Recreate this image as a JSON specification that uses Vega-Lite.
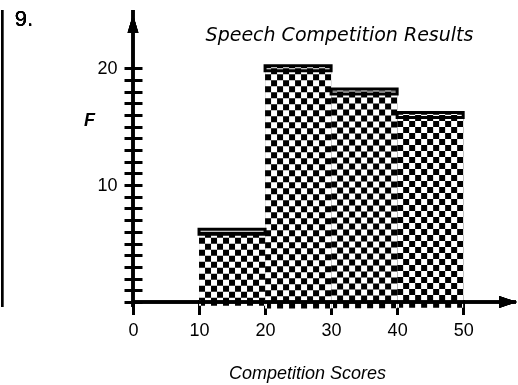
{
  "$schema": "https://vega.github.io/schema/vega-lite/v6.json",
  "autosize": "none",
  "width": 383,
  "height": 297,
  "padding": {"left": 133, "top": 10, "right": 2, "bottom": 78},
  "background": "white",
  "config": {
    "view": {"stroke": null},
    "font": "Liberation Sans",
    "axisX": {
      "domain": false, "grid": false, "offset": -7.5, "tickSize": 15, "tickWidth": 3, "tickColor": "black",
      "labelFont": "Liberation Sans", "labelFontSize": 18, "labelColor": "black", "labelPadding": 7, "labelFlush": false,
      "titleFont": "Liberation Sans", "titleFontStyle": "italic", "titleFontWeight": "normal", "titleFontSize": 18,
      "titleColor": "black", "titleAlign": "center", "titleBaseline": "middle", "titleX": 174, "titleY": 73.5
    },
    "axisY": {
      "domain": false, "grid": false, "offset": -9, "tickSize": 18, "tickWidth": 3, "tickColor": "black",
      "labelFont": "Liberation Sans", "labelFontSize": 18, "labelColor": "black", "labelPadding": 7, "labelFlush": false,
      "titleFont": "Liberation Sans", "titleFontStyle": "italic", "titleFontWeight": "bold", "titleFontSize": 18,
      "titleColor": "black", "titleAngle": 0, "titleAlign": "center", "titleBaseline": "middle", "titleX": -53, "titleY": 110
    }
  },
  "title": {
    "text": "Speech Competition Results",
    "font": "DejaVu Sans",
    "fontStyle": "italic",
    "fontWeight": "normal",
    "fontSize": 19,
    "color": "black",
    "anchor": "middle",
    "baseline": "middle",
    "offset": 0,
    "dx": 15,
    "dy": 46
  },
  "data": {
    "values": [
      {"bin_start": 10, "bin_end": 20, "count": 6},
      {"bin_start": 20, "bin_end": 30, "count": 20},
      {"bin_start": 30, "bin_end": 40, "count": 18},
      {"bin_start": 40, "bin_end": 50, "count": 16}
    ]
  },
  "layer": [
    {
      "mark": {
        "type": "rule",
        "orient": "vertical",
        "stroke": "black",
        "strokeWidth": 66,
        "strokeCap": "butt",
        "strokeDash": [6, 6],
        "xOffset": 33
      },
      "encoding": {
        "x": {
          "field": "bin_start", "type": "quantitative",
          "scale": {"domain": [0, 58], "nice": false, "zero": false},
          "axis": {"values": [0, 10, 20, 30, 40, 50], "title": "Competition Scores"}
        },
        "y": {
          "field": "count", "type": "quantitative",
          "scale": {"domain": [0, 24.55], "nice": false},
          "axis": {
            "values": [0, 1, 2, 3, 4, 5, 6, 7, 8, 9, 10, 11, 12, 13, 14, 15, 16, 17, 18, 19, 20],
            "labelExpr": "datum.value == 10 || datum.value == 20 ? datum.label : ''",
            "title": "F"
          }
        }
      }
    },
    {
      "mark": {
        "type": "rule",
        "stroke": "white",
        "strokeCap": "butt",
        "strokeDash": [6, 6],
        "yOffset": {"expr": "(height - scale('y', datum.count)) / 2"},
        "blend": "difference"
      },
      "encoding": {
        "x": {"field": "bin_start", "type": "quantitative", "axis": {"values": [0, 10, 20, 30, 40, 50], "title": "Competition Scores"}},
        "x2": {"field": "bin_end"},
        "y": {
          "field": "count", "type": "quantitative",
          "axis": {
            "values": [0, 1, 2, 3, 4, 5, 6, 7, 8, 9, 10, 11, 12, 13, 14, 15, 16, 17, 18, 19, 20],
            "labelExpr": "datum.value == 10 || datum.value == 20 ? datum.label : ''",
            "title": "F"
          }
        },
        "strokeWidth": {
          "field": "count", "type": "quantitative",
          "scale": {"domain": [0, 24.55], "range": [0, 297], "zero": true, "nice": false},
          "legend": null
        }
      }
    },
    {
      "mark": {"type": "bar", "fill": null, "fillOpacity": 0, "stroke": "black", "strokeWidth": 3},
      "encoding": {
        "x": {"field": "bin_start", "type": "quantitative", "axis": {"values": [0, 10, 20, 30, 40, 50], "title": "Competition Scores"}},
        "x2": {"field": "bin_end"},
        "y": {
          "field": "count", "type": "quantitative",
          "axis": {
            "values": [0, 1, 2, 3, 4, 5, 6, 7, 8, 9, 10, 11, 12, 13, 14, 15, 16, 17, 18, 19, 20],
            "labelExpr": "datum.value == 10 || datum.value == 20 ? datum.label : ''",
            "title": "F"
          }
        }
      }
    },
    {
      "mark": {"type": "rule", "stroke": "black", "strokeWidth": 3},
      "encoding": {
        "y": {
          "datum": 0, "type": "quantitative",
          "axis": {
            "values": [0, 1, 2, 3, 4, 5, 6, 7, 8, 9, 10, 11, 12, 13, 14, 15, 16, 17, 18, 19, 20],
            "labelExpr": "datum.value == 10 || datum.value == 20 ? datum.label : ''",
            "title": "F"
          }
        }
      }
    },
    {
      "mark": {"type": "rule", "stroke": "black", "strokeWidth": 3},
      "encoding": {
        "x": {"datum": 0, "type": "quantitative", "axis": {"values": [0, 10, 20, 30, 40, 50], "title": "Competition Scores"}}
      }
    },
    {
      "mark": {"type": "rule", "stroke": "black", "strokeWidth": 2},
      "encoding": {
        "x": {"datum": -19.8, "type": "quantitative", "axis": {"values": [0, 10, 20, 30, 40, 50], "title": "Competition Scores"}}
      }
    },
    {
      "mark": {"type": "point", "shape": "M-1,-0.67L1,0L-1,0.67Z", "size": 324, "filled": true, "color": "black", "opacity": 1},
      "encoding": {
        "x": {"datum": 56.8, "type": "quantitative", "axis": {"values": [0, 10, 20, 30, 40, 50], "title": "Competition Scores"}},
        "y": {
          "datum": 0, "type": "quantitative",
          "axis": {
            "values": [0, 1, 2, 3, 4, 5, 6, 7, 8, 9, 10, 11, 12, 13, 14, 15, 16, 17, 18, 19, 20],
            "labelExpr": "datum.value == 10 || datum.value == 20 ? datum.label : ''",
            "title": "F"
          }
        }
      }
    },
    {
      "mark": {"type": "point", "shape": "M-0.6,1L0,-1L0.6,1Z", "size": 324, "filled": true, "color": "black", "opacity": 1},
      "encoding": {
        "x": {"datum": 0, "type": "quantitative", "axis": {"values": [0, 10, 20, 30, 40, 50], "title": "Competition Scores"}},
        "y": {
          "datum": 23.8, "type": "quantitative",
          "axis": {
            "values": [0, 1, 2, 3, 4, 5, 6, 7, 8, 9, 10, 11, 12, 13, 14, 15, 16, 17, 18, 19, 20],
            "labelExpr": "datum.value == 10 || datum.value == 20 ? datum.label : ''",
            "title": "F"
          }
        }
      }
    },
    {
      "mark": {"type": "text", "text": "9.", "font": "Liberation Sans", "fontSize": 22, "color": "black", "align": "center", "baseline": "middle"},
      "encoding": {
        "x": {"datum": -16.5, "type": "quantitative", "axis": {"values": [0, 10, 20, 30, 40, 50], "title": "Competition Scores"}},
        "y": {
          "datum": 24.2, "type": "quantitative",
          "axis": {
            "values": [0, 1, 2, 3, 4, 5, 6, 7, 8, 9, 10, 11, 12, 13, 14, 15, 16, 17, 18, 19, 20],
            "labelExpr": "datum.value == 10 || datum.value == 20 ? datum.label : ''",
            "title": "F"
          }
        }
      }
    }
  ]
}
